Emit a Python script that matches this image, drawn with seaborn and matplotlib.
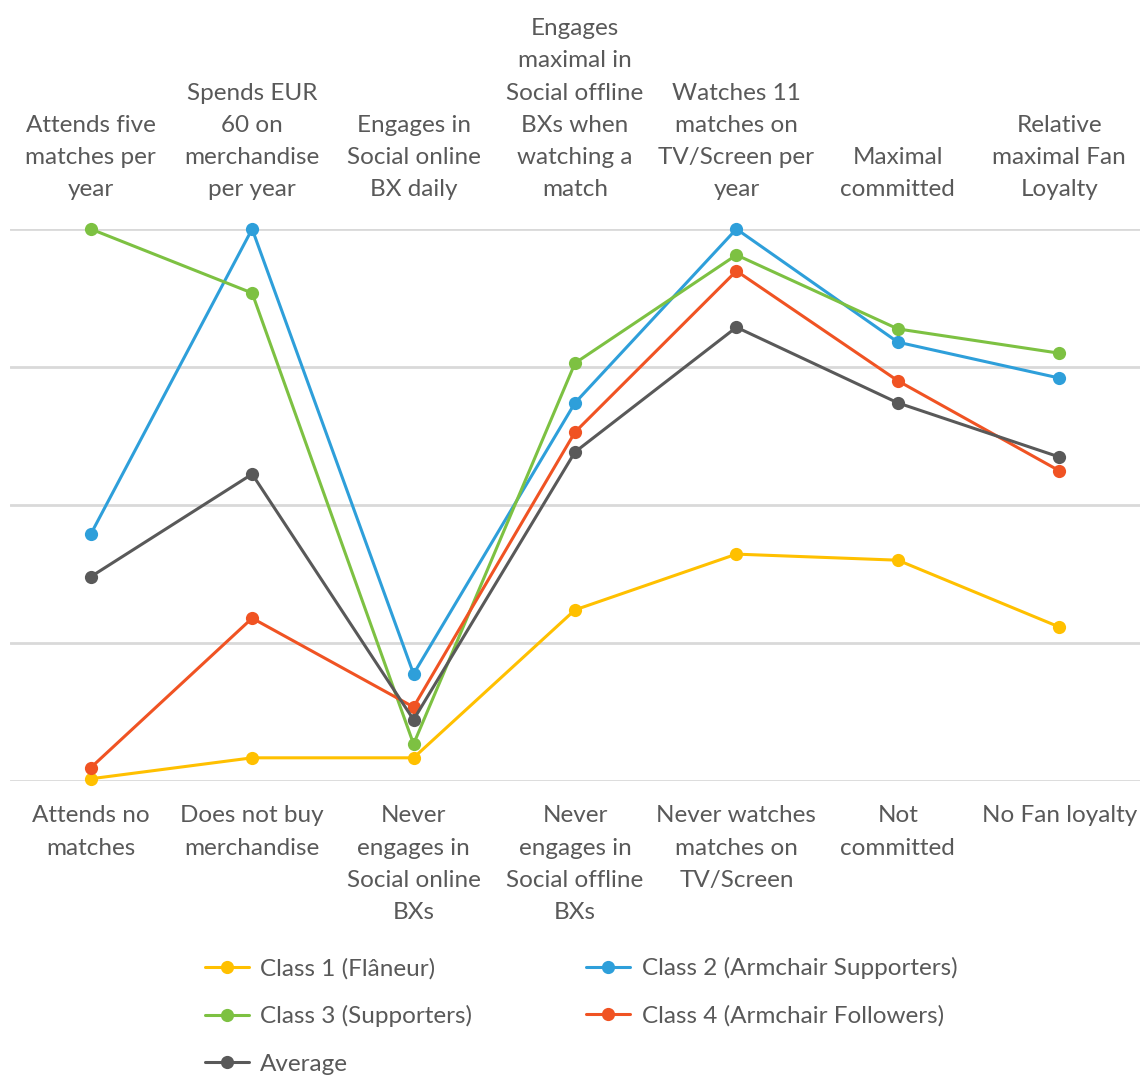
import pandas as pd
import matplotlib
matplotlib.use('Agg')
import matplotlib.pyplot as plt
import seaborn as sns

top_labels = ['Attends five\nmatches per\nyear', 'Spends EUR\n60 on\nmerchandise\nper year',
              'Engages in\nSocial online\nBX daily', 'Engages\nmaximal in\nSocial offline\nBXs when\nwatching a\nmatch',
              'Watches 11\nmatches on\nTV/Screen per\nyear', 'Maximal\ncommitted', 'Relative\nmaximal Fan\nLoyalty']
bottom_labels = ['Attends no\nmatches', 'Does not buy\nmerchandise', 'Never\nengages in\nSocial online\nBXs',
                 'Never\nengages in\nSocial offline\nBXs', 'Never watches\nmatches on\nTV/Screen', 'Not\ncommitted',
                 'No Fan loyalty']

series_names = ['Class 1 (Flâneur)', 'Class 2 (Armchair Supporters)', 'Class 3 (Supporters)',
                'Class 4 (Armchair Followers)', 'Average']
class1 = [0.004, 0.042, 0.042, 0.310, 0.411, 0.400, 0.279]
class2 = [0.447, 1.000, 0.194, 0.685, 1.000, 0.795, 0.730]
class3 = [1.000, 0.884, 0.067, 0.757, 0.953, 0.819, 0.775]
class4 = [0.024, 0.295, 0.134, 0.632, 0.924, 0.725, 0.562]
average = [0.370, 0.556, 0.111, 0.596, 0.822, 0.685, 0.587]
colors = ['#FFC000', '#2E9FDA', '#7DC142', '#F05323', '#595959']

rows = []
for name, vals in zip(series_names, [class1, class2, class3, class4, average]):
    for i, v in enumerate(vals):
        rows.append({'series': name, 'pos': i, 'value': v})
df = pd.DataFrame(rows)

sns.set_style('white')
plt.rcParams['font.family'] = ['Lato', 'DejaVu Sans']
text_color = '#595959'
fs = 17.5

fig = plt.figure(figsize=(11.44, 10.77), dpi=100)
ax = fig.add_axes([10 / 1144, 296 / 1077, 1130 / 1144, 552 / 1077])

sns.lineplot(data=df, x='pos', y='value', hue='series', hue_order=series_names,
             palette=colors, marker='o', markersize=9.5, markeredgewidth=0,
             linewidth=2.2, legend=False, ax=ax, clip_on=False, zorder=3)

ax.set_xlim(-0.5, 6.5)
ax.set_ylim(0, 1)
ax.set_yticks([0, 0.25, 0.5, 0.75, 1.0])
ax.set_xticks([])
ax.set_yticklabels([])
ax.tick_params(left=False, bottom=False)
ax.grid(axis='y', color='#D9D9D9', linewidth=2)
ax.set_axisbelow(True)
for s in ax.spines.values():
    s.set_visible(False)
ax.set_xlabel('')
ax.set_ylabel('')

# category labels above and below the plot
trans = ax.get_xaxis_transform()
for i, lab in enumerate(top_labels):
    ax.text(i, 1.052, lab, transform=trans, ha='center', va='bottom', fontsize=fs,
            color=text_color, linespacing=1.66)
for i, lab in enumerate(bottom_labels):
    ax.text(i, -0.044, lab, transform=trans, ha='center', va='top', fontsize=fs,
            color=text_color, linespacing=1.66)

handles = ax.get_lines()[:5]
order = [0, 2, 4, 1, 3]
leg = fig.legend([handles[k] for k in order], [series_names[k] for k in order],
                 loc='upper left', bbox_to_anchor=(205 / 1144, 1 - 957 / 1077), ncol=2,
                 frameon=False, fontsize=fs, handlelength=1.8, handletextpad=0.47,
                 columnspacing=4.7, labelspacing=1.08, borderpad=0, borderaxespad=0)
for t in leg.get_texts():
    t.set_color(text_color)

fig.savefig('out.png', dpi=100)
